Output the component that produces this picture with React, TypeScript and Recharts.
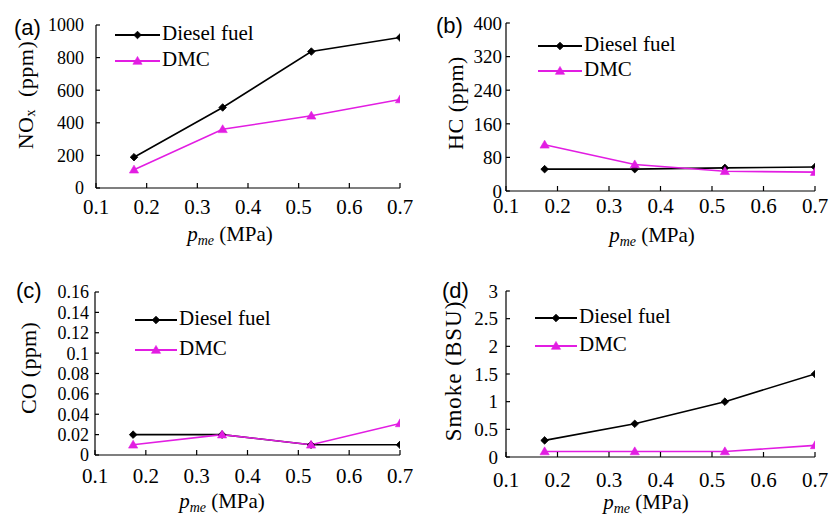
import React from 'react';
import { LineChart, Line, XAxis, YAxis, Legend } from 'recharts';

// ---------- data ----------
const pme = [0.175, 0.35, 0.525, 0.7];
const xTicks = [0.1, 0.2, 0.3, 0.4, 0.5, 0.6, 0.7];
const seriesNames = ['Diesel fuel', 'DMC'];

const noxDiesel = [189, 494, 837, 923];
const noxDmc = [112, 360, 443, 543];
const noxTicks = [0, 200, 400, 600, 800, 1000];

const hcDiesel = [52, 52, 55, 57];
const hcDmc = [110, 63, 47, 45];
const hcTicks = [0, 80, 160, 240, 320, 400];

const coDiesel = [0.02, 0.02, 0.01, 0.01];
const coDmc = [0.01, 0.02, 0.01, 0.031];
const coTicks = [0, 0.02, 0.04, 0.06, 0.08, 0.1, 0.12, 0.14, 0.16];

const smokeDiesel = [0.3, 0.6, 1.0, 1.5];
const smokeDmc = [0.1, 0.1, 0.1, 0.21];
const smokeTicks = [0, 0.5, 1, 1.5, 2, 2.5, 3];

const build = (d: number[], m: number[]) =>
  pme.map((p, i) => ({ p, diesel: d[i], dmc: m[i] }));

// ---------- styles ----------
const SERIF = "'Liberation Serif', 'Times New Roman', Times, serif";
const SANS = "'Liberation Sans', Arial, sans-serif";
const MAGENTA = '#e21de2';
const serifStyle = { fontFamily: SERIF };

const Diamond = (props: any) => {
  const { cx, cy } = props;
  if (cx == null || cy == null) return null;
  const r = 3.8;
  return (
    <path
      d={`M${cx},${cy - r}L${cx + r},${cy}L${cx},${cy + r}L${cx - r},${cy}Z`}
      fill="#000"
      stroke="#000"
      strokeWidth={0.8}
    />
  );
};

const Triangle = (props: any) => {
  const { cx, cy } = props;
  if (cx == null || cy == null) return null;
  return (
    <path
      d={`M${cx},${cy - 4.6}L${cx + 4.6},${cy + 3.3}L${cx - 4.6},${cy + 3.3}Z`}
      fill={MAGENTA}
      stroke={MAGENTA}
      strokeWidth={0.6}
    />
  );
};

const makeTick = (fontSize: number) => (props: any) => {
  const { x, y, payload, textAnchor, verticalAnchor } = props;
  const dy = verticalAnchor === 'start' ? '0.71em' : '0.355em';
  return (
    <text
      x={x}
      y={y}
      dy={dy}
      textAnchor={textAnchor}
      fontSize={fontSize}
      fill="#000"
      style={serifStyle}
    >
      {String(payload.value)}
    </text>
  );
};

type Cfg = {
  key: string;
  left: number;
  top: number;
  width: number;
  height: number;
  margin: { top: number; right: number; left: number; bottom: number };
  yWidth: number;
  xHeight: number;
  yTickFont: number;
  yTickMargin: number;
  xTickMargin: number;
  domain: [number, number];
  ticks: number[];
  data: { p: number; diesel: number; dmc: number }[];
  yTitle: React.ReactNode;
  yTitlePos: [number, number];
  yTitleFont: number;
  yTitleSpacing: number;
  xTitlePos: [number, number];
  letter: string;
  letterPos: [number, number];
  legend: { x: number; first: number; gap: number; lineLen: number };
};

const panels: Cfg[] = [
  {
    key: 'a',
    left: 0,
    top: 0,
    width: 420,
    height: 258,
    margin: { top: 25, right: 20, left: 0, bottom: 0 },
    yWidth: 96,
    xHeight: 70,
    yTickFont: 18,
    yTickMargin: 16,
    xTickMargin: 16,
    domain: [0, 1000],
    ticks: noxTicks,
    data: build(noxDiesel, noxDmc),
    yTitle: (
      <>
        NO<tspan fontSize={14} dy={5}>x</tspan>
        <tspan dy={-5}>{'\u00a0\u00a0(ppm)'}</tspan>
      </>
    ),
    yTitlePos: [25, 95],
    yTitleFont: 22,
    yTitleSpacing: 0.5,
    xTitlePos: [230, 241],
    letter: '(a)',
    letterPos: [14, 35],
    legend: { x: 115, first: 40, gap: 26, lineLen: 45 },
  },
  {
    key: 'b',
    left: 420,
    top: 0,
    width: 414,
    height: 258,
    margin: { top: 23, right: 19, left: 0, bottom: 0 },
    yWidth: 86,
    xHeight: 67,
    yTickFont: 19,
    yTickMargin: 8,
    xTickMargin: 12,
    domain: [0, 400],
    ticks: hcTicks,
    data: build(hcDiesel, hcDmc),
    yTitle: 'HC (ppm)',
    yTitlePos: [35, 103],
    yTitleFont: 22,
    yTitleSpacing: 0.5,
    xTitlePos: [232, 242],
    letter: '(b)',
    letterPos: [16, 33],
    legend: { x: 118, first: 51, gap: 25, lineLen: 44 },
  },
  {
    key: 'c',
    left: 0,
    top: 258,
    width: 420,
    height: 257,
    margin: { top: 34, right: 20, left: 0, bottom: 0 },
    yWidth: 95,
    xHeight: 60,
    yTickFont: 18,
    yTickMargin: 10,
    xTickMargin: 18,
    domain: [0, 0.16],
    ticks: coTicks,
    data: build(coDiesel, coDmc),
    yTitle: 'CO (ppm)',
    yTitlePos: [28, 110],
    yTitleFont: 22,
    yTitleSpacing: 0.3,
    xTitlePos: [222, 250],
    letter: '(c)',
    letterPos: [16, 40],
    legend: { x: 135, first: 67, gap: 30, lineLen: 42 },
  },
  {
    key: 'd',
    left: 420,
    top: 258,
    width: 414,
    height: 257,
    margin: { top: 33, right: 19, left: 0, bottom: 0 },
    yWidth: 86,
    xHeight: 58,
    yTickFont: 19,
    yTickMargin: 12,
    xTickMargin: 20,
    domain: [0, 3],
    ticks: smokeTicks,
    data: build(smokeDiesel, smokeDmc),
    yTitle: 'Smoke (BSU)',
    yTitlePos: [33, 113],
    yTitleFont: 23,
    yTitleSpacing: 1,
    xTitlePos: [226, 251],
    letter: '(d)',
    letterPos: [22, 40],
    legend: { x: 115, first: 65, gap: 28, lineLen: 42 },
  },
];

const order = ['diesel', 'dmc'];

const makeLegend = (cfg: Cfg) => (props: any) => {
  const payload = [...(props.payload || [])].sort(
    (a: any, b: any) => order.indexOf(a.dataKey) - order.indexOf(b.dataKey)
  );
  const { first, gap, lineLen } = cfg.legend;
  return (
    <svg width={200} height={first + gap * 2} style={{ display: 'block', overflow: 'visible' }}>
      {payload.map((e: any, i: number) => {
        const base = first + i * gap;
        const ly = base - 5;
        const isDmc = e.dataKey === 'dmc';
        const color = isDmc ? MAGENTA : '#000';
        const cx = lineLen / 2;
        return (
          <g key={String(e.dataKey)}>
            <line x1={0} x2={lineLen} y1={ly} y2={ly} stroke={color} strokeWidth={2} />
            {isDmc ? <Triangle cx={cx} cy={ly} /> : <Diamond cx={cx} cy={ly} />}
            <text x={lineLen + 2} y={base} fontSize={21} fill="#000" style={serifStyle}>
              {e.value}
            </text>
          </g>
        );
      })}
    </svg>
  );
};

const Panel = ({ cfg }: { cfg: Cfg }) => {
  const yLabel = () => (
    <g>
      <text
        x={cfg.yTitlePos[0]}
        y={cfg.yTitlePos[1]}
        transform={`rotate(-90 ${cfg.yTitlePos[0]} ${cfg.yTitlePos[1]})`}
        textAnchor="middle"
        dominantBaseline="central"
        fontSize={cfg.yTitleFont}
        fill="#000"
        style={{ fontFamily: SERIF, letterSpacing: cfg.yTitleSpacing }}
      >
        {cfg.yTitle}
      </text>
      <text
        x={cfg.letterPos[0]}
        y={cfg.letterPos[1]}
        fontSize={22}
        fill="#000"
        style={{ fontFamily: SANS }}
      >
        {cfg.letter}
      </text>
    </g>
  );
  const xLabel = () => (
    <text
      x={cfg.xTitlePos[0]}
      y={cfg.xTitlePos[1]}
      textAnchor="middle"
      fontSize={21}
      fill="#000"
      style={serifStyle}
    >
      <tspan fontStyle="italic">p</tspan>
      <tspan fontStyle="italic" fontSize={14} dy={4}>me</tspan>
      <tspan dy={-4}>{'\u00a0(MPa)'}</tspan>
    </text>
  );
  return (
    <div style={{ position: 'absolute', left: cfg.left, top: cfg.top, width: cfg.width, height: cfg.height }}>
      <LineChart width={cfg.width} height={cfg.height} data={cfg.data} margin={cfg.margin}>
        <XAxis
          type="number"
          dataKey="p"
          domain={[0.1, 0.7]}
          ticks={xTicks}
          interval={0}
          allowDataOverflow
          height={cfg.xHeight}
          tickSize={-5}
          tickMargin={cfg.xTickMargin}
          axisLine={{ stroke: '#000', strokeWidth: 1.2 }}
          tickLine={{ stroke: '#000', strokeWidth: 1.2 }}
          tick={makeTick(21)}
          label={{ content: xLabel }}
        />
        <YAxis
          type="number"
          domain={cfg.domain}
          ticks={cfg.ticks}
          interval={0}
          allowDataOverflow
          width={cfg.yWidth}
          tickSize={-4}
          tickMargin={cfg.yTickMargin}
          axisLine={{ stroke: '#000', strokeWidth: 1.2 }}
          tickLine={{ stroke: '#000', strokeWidth: 1.2 }}
          tick={makeTick(cfg.yTickFont)}
          label={{ content: yLabel }}
        />
        <Legend
          layout="vertical"
          align="center"
          verticalAlign="middle"
          wrapperStyle={{ left: cfg.legend.x, top: 0, width: 200 }}
          content={makeLegend(cfg)}
        />
        <Line
          name={seriesNames[0]}
          dataKey="diesel"
          stroke="#000"
          strokeWidth={1.6}
          isAnimationActive={false}
          dot={(p: any) => <Diamond key={`dd-${p.index}`} cx={p.cx} cy={p.cy} />}
          activeDot={false}
        />
        <Line
          name={seriesNames[1]}
          dataKey="dmc"
          stroke={MAGENTA}
          strokeWidth={1.6}
          isAnimationActive={false}
          dot={(p: any) => <Triangle key={`mt-${p.index}`} cx={p.cx} cy={p.cy} />}
          activeDot={false}
        />
      </LineChart>
    </div>
  );
}

export default function App() {
  return (
    <div style={{ position: 'absolute', left: 0, top: 0, width: 834, height: 515, background: '#fff' }}>
      {panels.map((c) => (
        <Panel key={c.key} cfg={c} />
      ))}
    </div>
  );
}
